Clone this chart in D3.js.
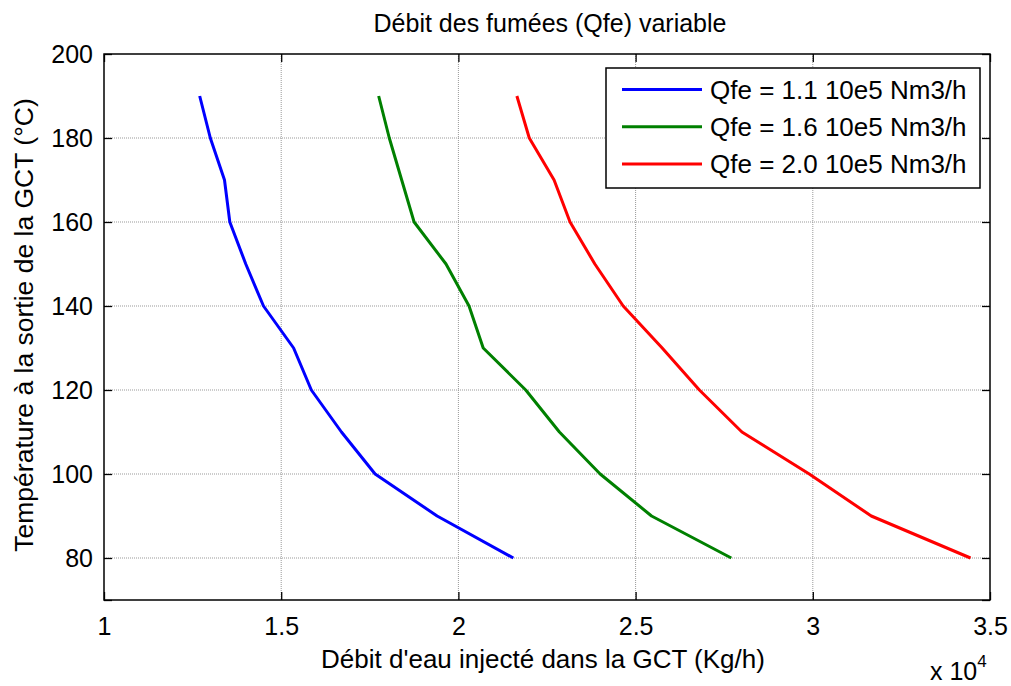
<!DOCTYPE html>
<html>
<head>
<meta charset="utf-8">
<script src="https://cdn.jsdelivr.net/npm/d3@7"></script>
<style>
  body { margin: 0; background: #fff; }
  text { font-family: "Liberation Sans", Arial, sans-serif; fill: #000; }
</style>
</head>
<body>
<div class="chart"></div>
<script>
// temperatures (°C) at which the curves are sampled
const temps = [190, 180, 170, 160, 150, 140, 130, 120, 110, 100, 90, 80];
// water flow (Kg/h) for each smoke flow
const qfe11 = [12700, 13000, 13400, 13550, 14000, 14500, 15350, 15850, 16700, 17650, 19400, 21550];
const qfe16 = [17750, 18050, 18400, 18750, 19650, 20300, 20700, 21900, 22850, 24000, 25450, 27700];
const qfe20 = [21650, 22000, 22700, 23150, 23850, 24650, 25750, 26800, 28000, 29900, 31650, 34450];

const seriesNames = ['Qfe = 1.1 10e5 Nm3/h', 'Qfe = 1.6 10e5 Nm3/h', 'Qfe = 2.0 10e5 Nm3/h'];
const seriesColors = ['#0000ff', '#008000', '#ff0000'];
const xTicks = [10000, 15000, 20000, 25000, 30000, 35000];
const yTicks = [80, 100, 120, 140, 160, 180, 200];

const width = 1011;
const height = 686;
const pLeft = 104, pRight = 990, pTop = 54, pBottom = 600;

const svg = d3.select('.chart')
	.append('svg')
	.attr('width', width)
	.attr('height', height);

const x = d3.scaleLinear().domain([10000, 35000]).range([pLeft, pRight]);
const y = d3.scaleLinear().domain([70, 200]).range([pBottom, pTop]);

// grid
svg.append('g')
	.selectAll('line')
	.data(xTicks.slice(1, -1))
	.enter()
	.append('line')
	.attr('x1', d => x(d)).attr('x2', d => x(d))
	.attr('y1', pTop).attr('y2', pBottom)
	.attr('stroke', '#999')
	.attr('stroke-dasharray', '1,1');
svg.append('g')
	.selectAll('line')
	.data(yTicks.slice(0, -1))
	.enter()
	.append('line')
	.attr('y1', d => y(d)).attr('y2', d => y(d))
	.attr('x1', pLeft).attr('x2', pRight)
	.attr('stroke', '#999')
	.attr('stroke-dasharray', '1,1');

// axes (ticks inward, labels outside)
const fmtX = d => d3.format('~g')(d / 10000);
svg.append('g')
	.attr('transform', `translate(0,${pBottom})`)
	.call(d3.axisBottom(x).tickValues(xTicks).tickFormat(fmtX).tickSizeInner(-8).tickSizeOuter(0).tickPadding(17))
	.call(g => g.select('.domain').remove())
	.call(g => g.selectAll('text').style('font-size', '25px'));
svg.append('g')
	.attr('transform', `translate(0,${pTop})`)
	.call(d3.axisTop(x).tickValues(xTicks).tickFormat('').tickSizeInner(-8).tickSizeOuter(0))
	.call(g => g.select('.domain').remove());
svg.append('g')
	.attr('transform', `translate(${pLeft},0)`)
	.call(d3.axisLeft(y).tickValues([70].concat(yTicks)).tickFormat(d => d === 70 ? '' : d).tickSizeInner(-8).tickSizeOuter(0).tickPadding(11))
	.call(g => g.select('.domain').remove())
	.call(g => g.selectAll('text').style('font-size', '25px'));
svg.append('g')
	.attr('transform', `translate(${pRight},0)`)
	.call(d3.axisRight(y).tickValues([70].concat(yTicks)).tickFormat('').tickSizeInner(-8).tickSizeOuter(0))
	.call(g => g.select('.domain').remove());

svg.selectAll('.tick line').attr('stroke', '#000').attr('stroke-width', 1.3);
svg.selectAll('.tick text').attr('font-family', null);

svg.append('rect')
	.attr('x', pLeft).attr('y', pTop)
	.attr('width', pRight - pLeft).attr('height', pBottom - pTop)
	.attr('fill', 'none')
	.attr('stroke', '#000')
	.attr('stroke-width', 1.5);

// curves
const allSeries = [qfe11, qfe16, qfe20];
const line = d3.line()
	.x(d => x(d[0]))
	.y(d => y(d[1]));
svg.append('g')
	.selectAll('path')
	.data(allSeries)
	.enter()
	.append('path')
	.attr('d', s => line(s.map((v, i) => [v, temps[i]])))
	.attr('fill', 'none')
	.attr('stroke', (s, i) => seriesColors[i])
	.attr('stroke-width', 3)
	.attr('stroke-linejoin', 'round');

// legend
const legend = svg.append('g');
legend.append('rect')
	.attr('x', 606).attr('y', 68)
	.attr('width', 374).attr('height', 120)
	.attr('fill', '#fff')
	.attr('stroke', '#000')
	.attr('stroke-width', 1.5);
const items = legend.selectAll('g')
	.data(seriesNames)
	.enter()
	.append('g')
	.attr('transform', (d, i) => `translate(0,${89.5 + i * 37.2})`);
items.append('line')
	.attr('x1', 622).attr('x2', 702)
	.attr('stroke', (d, i) => seriesColors[i])
	.attr('stroke-width', 3);
items.append('text')
	.attr('x', 710).attr('y', 9)
	.style('font-size', '26px')
	.text(d => d);

// titles
svg.append('text')
	.attr('x', 550).attr('y', 31.5)
	.attr('text-anchor', 'middle')
	.style('font-size', '25px')
	.text('Débit des fumées (Qfe) variable');
svg.append('text')
	.attr('x', 543).attr('y', 668)
	.attr('text-anchor', 'middle')
	.style('font-size', '26px')
	.text("Débit d'eau injecté dans la GCT (Kg/h)");
svg.append('text')
	.attr('transform', 'translate(33,325) rotate(-90)')
	.attr('text-anchor', 'middle')
	.style('font-size', '26.5px')
	.text('Température à la sortie de la GCT (°C)');
const mult = svg.append('text')
	.attr('x', 930).attr('y', 680)
	.style('font-size', '25px');
mult.append('tspan').text('x 10');
mult.append('tspan').attr('dy', -13).style('font-size', '17px').text('4');
</script>
</body>
</html>
